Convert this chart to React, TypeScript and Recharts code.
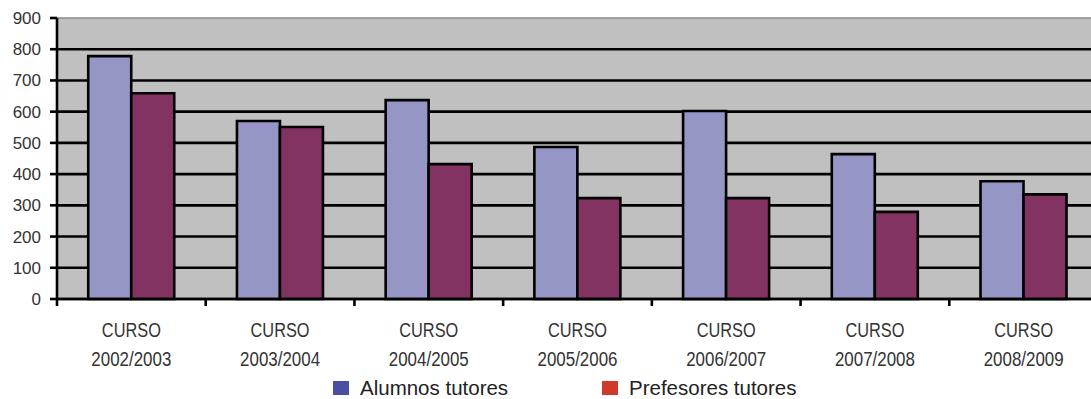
import React from 'react';
import { BarChart, Bar, XAxis, YAxis, CartesianGrid } from 'recharts';

const cursos = ['2002/2003', '2003/2004', '2004/2005', '2005/2006', '2006/2007', '2007/2008', '2008/2009'];
const alumnosTutores = [778, 570, 637, 487, 602, 464, 377];
const profesoresTutores = [659, 551, 432, 323, 323, 279, 335];
const yTicks = [0, 100, 200, 300, 400, 500, 600, 700, 800, 900];

const data = cursos.map((curso, i) => ({
  curso,
  alumnos: alumnosTutores[i],
  profesores: profesoresTutores[i],
}));

const CHART_W = 1098;
const CHART_H = 399;
const Y_AXIS_W = 57;
const TOP = 18;
const X_AXIS_H = 100;
const PLOT_BOTTOM = CHART_H - X_AXIS_H;
const CAT_W = (CHART_W - Y_AXIS_W) / cursos.length;
const LABEL_FONT = "'Liberation Sans', Arial, sans-serif";
const LINE_W = 2.6;

const gridLine = (p: any) => {
  const isTop = p.y1 <= TOP + 1;
  return (
    <line
      key={p.key}
      x1={p.x1}
      x2={p.x2}
      y1={p.y1}
      y2={p.y2}
      stroke={isTop ? '#8a8a8a' : '#000'}
      strokeWidth={isTop ? 1.5 : LINE_W}
    />
  );
};

// narrow-looking labels: squeeze Liberation Sans to the reference widths
const CursoTick = (props: any) => {
  const { x, payload } = props;
  const left = x - CAT_W / 2;
  return (
    <g>
      <line x1={left} x2={left} y1={PLOT_BOTTOM} y2={PLOT_BOTTOM + 7} stroke="#000" strokeWidth={LINE_W} />
      <text
        x={x}
        y={337}
        textAnchor="middle"
        fill="#333"
        fontSize={20.5}
        fontFamily={LABEL_FONT}
        textLength={59}
        lengthAdjust="spacingAndGlyphs"
      >
        CURSO
      </text>
      <text
        x={x}
        y={366}
        textAnchor="middle"
        fill="#333"
        fontSize={20.5}
        fontFamily={LABEL_FONT}
        textLength={80}
        lengthAdjust="spacingAndGlyphs"
      >
        {payload.value}
      </text>
    </g>
  );
};

const legendItems = [
  { label: 'Alumnos tutores', color: '#4b4fa3', x: 333 },
  { label: 'Prefesores tutores', color: '#d03a2c', x: 602 },
];

export default function App() {
  return (
    <div
      style={{
        position: 'absolute',
        left: 0,
        top: 0,
        width: 1091,
        height: 399,
        overflow: 'hidden',
        background: '#fff',
        fontFamily: LABEL_FONT,
      }}
    >
      <BarChart
        width={CHART_W}
        height={CHART_H}
        data={data}
        margin={{ top: TOP, right: 0, left: 0, bottom: 0 }}
        barCategoryGap="21%"
        barGap={0}
      >
        <CartesianGrid vertical={false} horizontal={gridLine} fill="#c0c0c0" fillOpacity={1} />
        <XAxis
          dataKey="curso"
          height={X_AXIS_H}
          tickLine={false}
          axisLine={{ stroke: '#000', strokeWidth: LINE_W }}
          tick={<CursoTick />}
          interval={0}
        />
        <YAxis
          width={Y_AXIS_W}
          domain={[0, 900]}
          ticks={yTicks}
          interval={0}
          tickSize={7}
          tickMargin={9}
          axisLine={{ stroke: '#000', strokeWidth: LINE_W }}
          tickLine={{ stroke: '#000', strokeWidth: LINE_W }}
          tick={{ fill: '#333', fontSize: 17, fontFamily: LABEL_FONT }}
        />
        <Bar dataKey="alumnos" fill="#9595c6" stroke="#000" strokeWidth={LINE_W} isAnimationActive={false} />
        <Bar dataKey="profesores" fill="#833361" stroke="#000" strokeWidth={LINE_W} isAnimationActive={false} />
      </BarChart>
      {legendItems.map((item) => (
        <div
          key={item.label}
          style={{
            position: 'absolute',
            left: item.x,
            top: 381,
            display: 'flex',
            alignItems: 'center',
            height: 14,
          }}
        >
          <span style={{ width: 16, height: 14, background: item.color, display: 'inline-block' }} />
          <span style={{ marginLeft: 11, fontSize: 20.5, color: '#222', lineHeight: '14px' }}>{item.label}</span>
        </div>
      ))}
    </div>
  );
}
